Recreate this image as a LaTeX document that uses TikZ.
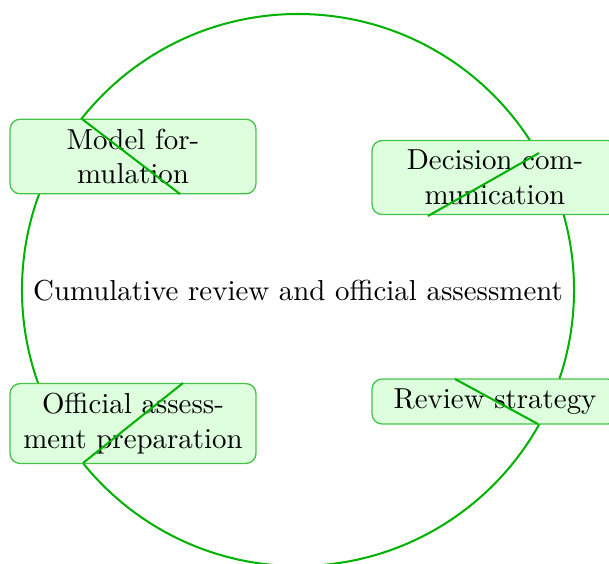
\documentclass[tikz,border=0pt]{standalone}
\usetikzlibrary{calc}
\definecolor{ring}{RGB}{0,178,0}
\definecolor{boxline}{RGB}{70,195,70}
\definecolor{boxfill}{RGB}{222,255,222}
\tikzset{
  stagebox/.style={draw=boxline, fill=boxfill, line width=0.45pt, rounded corners=3.5pt,
    minimum width=85.1pt, minimum height=0pt, align=center, inner sep=3.33pt},
  ringline/.style={draw=ring, line width=0.7pt},
}
\begin{document}
\begin{tikzpicture}[x=0.346pt,y=-0.346pt]
\useasboundingbox (0,0) rectangle (609,563);
\node[circle, minimum size=191pt, draw=ring, line width=0.7pt, inner sep=0pt] (ringc) at (298,290) {};
\node (center) at (298,291) {Cumulative review and official assessment};
\node[stagebox] (model) at (133,156.5) {Model for-\\mulation};
\node[stagebox] (decision) at (495,177.5) {Decision com-\\munication};
\node[stagebox] (official) at (133,423.5) {Official assess-\\ment preparation};
\node[stagebox] (review) at (495,401.5) {Review strategy};
\coordinate (m1) at (82,119);
\coordinate (m2) at (180,194);
\coordinate (d1) at (539,153);
\coordinate (d2) at (428,216);
\coordinate (o1) at (183,383);
\coordinate (o2) at (83,463);
\coordinate (r1) at (455,379);
\coordinate (r2) at (538,424);
\draw[ringline] (m1) -- (m2);
\draw[ringline] (d1) -- (d2);
\draw[ringline] (o1) -- (o2);
\draw[ringline] (r1) -- (r2);
\end{tikzpicture}
\end{document}
